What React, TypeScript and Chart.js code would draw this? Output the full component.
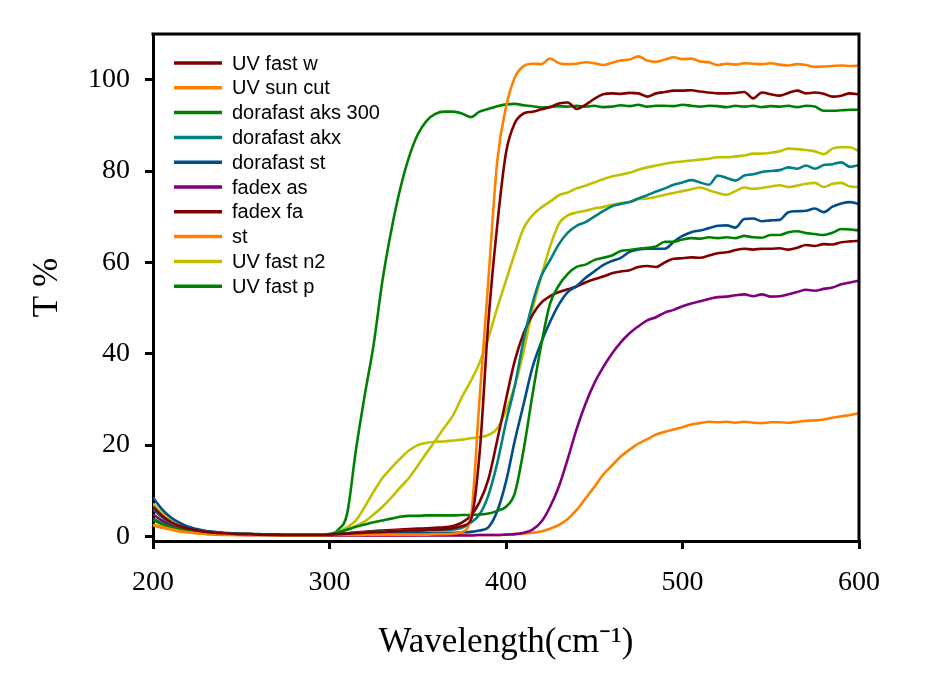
import React, { useEffect, useRef } from "react";
import { Chart, registerables } from "chart.js";

Chart.register(...registerables);

const wavelengths = [
  200, 205, 210, 215, 220, 225, 230, 235, 240, 245,
  250, 255, 260, 265, 270, 275, 280, 285, 290, 295,
  300, 305, 310, 315, 320, 325, 330, 335, 340, 345,
  350, 355, 360, 365, 370, 375, 380, 385, 390, 395,
  400, 405, 410, 415, 420, 425, 430, 435, 440, 445,
  450, 455, 460, 465, 470, 475, 480, 485, 490, 495,
  500, 505, 510, 515, 520, 525, 530, 535, 540, 545,
  550, 555, 560, 565, 570, 575, 580, 585, 590, 595,
  600,
];

const uvFastW = [
  6.5, 4.6, 3.2, 2.3, 1.7, 1.3, 1.0, 0.8, 0.7, 0.6,
  0.5, 0.5, 0.4, 0.4, 0.4, 0.3, 0.3, 0.3, 0.3, 0.3,
  0.4, 0.5, 0.6, 0.7, 0.8, 0.9, 1.0, 1.1, 1.2, 1.3,
  1.3, 1.4, 1.5, 1.6, 1.8, 2.3, 3.5, 18, 47, 68,
  84, 90.5, 92.6, 93, 93.5, 94, 94.8, 95, 93.6, 94.5,
  95.8, 96.8, 97, 96.9, 97.1, 97, 96.3, 97, 97.3, 97.6,
  97.6, 97.7, 97.4, 97.2, 97, 97, 97.1, 97.3, 95.9, 97.2,
  96.8, 96.5, 97.1, 97.6, 97, 97.2, 96.9, 96.3, 96.5, 97,
  96.8,
];

const uvSunCut = [
  2.6, 2.1, 1.6, 1.2, 0.9, 0.7, 0.6, 0.5, 0.4, 0.4,
  0.3, 0.3, 0.3, 0.3, 0.3, 0.3, 0.3, 0.3, 0.3, 0.3,
  0.3, 0.3, 0.3, 0.3, 0.4, 0.4, 0.4, 0.4, 0.4, 0.4,
  0.4, 0.4, 0.5, 0.5, 0.6, 1.0, 4, 30, 56, 82,
  94, 100.5, 103, 103.5, 103.4, 104.6, 103.6, 103.4, 103.5, 103.8,
  103.6, 103.2, 103.7, 104.2, 104.4, 105.1, 104.2, 103.9, 104.4, 104.9,
  104.5, 104.6, 104, 103.8, 103.2, 103.5, 103.3, 103.6, 103.5, 103.4,
  103.6, 103.3, 103.1, 103.4, 103.2, 102.8, 102.9, 103, 103.1, 103,
  103.1,
];

const dorafastAks300 = [
  3.9, 2.9, 2.1, 1.6, 1.2, 0.9, 0.7, 0.6, 0.5, 0.5,
  0.4, 0.4, 0.4, 0.3, 0.3, 0.3, 0.3, 0.3, 0.3, 0.3,
  0.4, 0.9, 1.5, 2.1, 2.6, 3.1, 3.5, 3.9, 4.3, 4.5,
  4.5, 4.6, 4.6, 4.6, 4.6, 4.7, 4.7, 4.8, 5.0, 5.6,
  6.5, 9.5, 19, 31, 42, 51, 55, 57.5, 59, 59.5,
  60.5, 61, 61.5, 62.5, 62.7, 63, 63.2, 63.5, 64.5, 64.5,
  65, 65.3, 65.2, 65.5, 65.3, 65.5, 65.3, 65.8, 65.5, 65.4,
  66, 66, 66.6, 66.8, 66.4, 66.2, 66, 66.5, 67.3, 67.2,
  67,
];

const dorafastAkx = [
  6, 4.3, 3.0, 2.2, 1.6, 1.2, 1.0, 0.8, 0.7, 0.6,
  0.5, 0.5, 0.4, 0.4, 0.4, 0.4, 0.4, 0.4, 0.4, 0.4,
  0.5, 0.6, 0.7, 0.8, 0.9, 1.0, 1.1, 1.2, 1.3, 1.3,
  1.3, 1.4, 1.4, 1.4, 1.5, 1.9, 3, 4.8, 9, 16,
  25, 33, 43, 51, 57, 60.5, 64, 66.5, 68, 68.8,
  70, 71.2, 72.3, 72.8, 73.2, 74, 74.7, 75.5, 76.2, 77,
  77.5, 78, 77.5, 77, 79, 78.5, 77.9, 79, 79.3, 79.8,
  80, 80.2, 80.8, 80.5, 81.2, 80.5, 81.3, 81.5, 81.9, 80.9,
  81.3,
];

const dorafastSt = [
  8.5, 6, 4.2, 3, 2.1, 1.6, 1.2, 1, 0.8, 0.7,
  0.6, 0.5, 0.5, 0.4, 0.4, 0.4, 0.4, 0.4, 0.4, 0.4,
  0.4, 0.5, 0.5, 0.6, 0.6, 0.7, 0.7, 0.7, 0.8, 0.8,
  0.8, 0.8, 0.8, 0.8, 0.8, 0.9, 1.0, 1.3, 2, 5.5,
  12, 21, 29, 37, 42.5, 47, 50.8, 53.5, 54.8, 56.6,
  58, 59.4, 60.3, 61, 62.3, 62.8, 63, 63, 63, 64.5,
  65.8, 66.6, 67, 67.5, 68, 68.1, 67.6, 69.5, 69.6, 69,
  69.2, 69.3, 71, 71.2, 71.3, 71.8, 71, 72.2, 72.9, 73.2,
  72.8,
];

const fadexAs = [
  4.8, 3.5, 2.5, 1.8, 1.3, 1, 0.8, 0.6, 0.5, 0.4,
  0.4, 0.3, 0.3, 0.3, 0.3, 0.3, 0.3, 0.3, 0.3, 0.3,
  0.2, 0.2, 0.2, 0.2, 0.2, 0.2, 0.2, 0.2, 0.2, 0.2,
  0.2, 0.2, 0.2, 0.2, 0.2, 0.2, 0.2, 0.3, 0.3, 0.3,
  0.4, 0.5, 0.8, 1.5, 3.2, 6.5, 11, 17, 23.5, 29,
  33.5, 37, 40, 42.5, 44.5, 46, 47.3, 48, 49, 49.6,
  50.4, 51, 51.5, 52, 52.4, 52.5, 52.8, 53, 52.6, 53,
  52.5, 52.6, 53, 53.5, 54, 53.8, 54.2, 54.5, 55.2, 55.6,
  56,
];

const fadexFa = [
  6, 4.3, 3.0, 2.2, 1.6, 1.2, 1.0, 0.8, 0.7, 0.6,
  0.5, 0.5, 0.4, 0.4, 0.4, 0.4, 0.4, 0.4, 0.4, 0.4,
  0.5, 0.6, 0.7, 0.9, 1.0, 1.2, 1.3, 1.4, 1.5, 1.6,
  1.7, 1.8, 1.9, 2.0, 2.3, 3.0, 4.5, 7.5, 12.5, 21,
  30, 38.5, 44.5, 48.5, 51.2, 52.6, 53.5, 54.1, 54.7, 55.6,
  56.3, 56.9, 57.6, 58, 58.3, 59, 59.2, 59, 60, 60.8,
  60.9, 61.1, 61, 61.5, 62, 62.2, 62.7, 63, 62.8, 63,
  63, 63.1, 62.8, 63.2, 63.8, 63.6, 64, 63.9, 64.4, 64.6,
  64.7,
];

const st = [
  2.4, 1.9, 1.5, 1.1, 0.9, 0.7, 0.5, 0.4, 0.3, 0.3,
  0.3, 0.3, 0.3, 0.3, 0.2, 0.2, 0.2, 0.2, 0.2, 0.2,
  0.2, 0.2, 0.2, 0.2, 0.2, 0.2, 0.2, 0.2, 0.2, 0.2,
  0.3, 0.3, 0.3, 0.3, 0.3, 0.3, 0.3, 0.3, 0.3, 0.3,
  0.4, 0.5, 0.6, 0.8, 1.1, 1.7, 2.5, 3.8, 5.8, 8.3,
  10.8, 13.5, 15.5, 17.5, 19, 20.3, 21.3, 22.3, 22.9, 23.4,
  23.9, 24.5, 24.8, 25.1, 25, 25.1, 24.9, 25.1, 24.9, 24.8,
  25, 25, 24.9, 25.1, 25.3, 25.4, 25.6, 26, 26.3, 26.6,
  27,
];

const uvFastN2 = [
  7.2, 5.1, 3.6, 2.6, 1.9, 1.4, 1.1, 0.9, 0.7, 0.6,
  0.5, 0.5, 0.4, 0.4, 0.4, 0.4, 0.4, 0.4, 0.3, 0.3,
  0.4, 1, 2, 3.5, 6.5, 9.8, 12.8, 15, 17, 18.8,
  20, 20.5, 20.7, 20.8, 21, 21.2, 21.5, 21.7, 22.2, 23.6,
  27.5, 33, 40.5, 49.6, 57, 63.5, 68.5, 70.3, 70.9, 71.3,
  71.8, 72.1, 72.6, 73, 73.2, 73.8, 74, 74.3, 74.8, 75.2,
  75.6, 76, 76.4, 75.8, 75.2, 74.8, 75.6, 76.4, 76.1, 76.3,
  76.6, 76.9, 76.5, 76.8, 77.2, 77.4, 76.5, 77.2, 77.4, 76.6,
  76.5,
];

const uvFastP = [
  3.6, 2.7, 2, 1.5, 1.1, 0.9, 0.7, 0.6, 0.5, 0.5,
  0.4, 0.4, 0.4, 0.4, 0.3, 0.3, 0.3, 0.3, 0.3, 0.3,
  0.4, 1.5, 5, 19, 31, 42, 56, 67, 76, 83,
  88, 91, 92.5, 93, 93, 92.6, 91.8, 93, 93.6, 94.2,
  94.6, 94.7, 94.4, 94.2, 93.9, 94, 94.2, 94.1, 94.3, 94.1,
  94.3, 94, 94.1, 94.4, 94.2, 94.5, 94.1, 94.3, 94.3, 94.2,
  94.5, 94.3, 94.1, 94.3, 94.2, 94, 94.3, 94.1, 94.3, 94,
  94.2, 94.1, 94.3, 94, 94.3, 94.1, 93.2, 93.2, 93.3, 93.4,
  93.4,
];

const uvFastN2b = [
  6.8, 4.9, 3.4, 2.5, 1.8, 1.4, 1.1, 0.9, 0.7, 0.6,
  0.5, 0.5, 0.4, 0.4, 0.4, 0.4, 0.4, 0.3, 0.3, 0.3,
  0.4, 0.8, 1.4, 2.3, 3.3, 4.8, 6.5, 8.5, 10.7, 12.8,
  15.5, 18.3, 21, 23.8, 26.5, 30.5, 34, 38, 43.5, 50,
  56, 62, 67.5, 70.3, 72, 73.3, 74.7, 75.3, 76.2, 76.8,
  77.5, 78.2, 78.8, 79.2, 79.6, 80.3, 80.8, 81.2, 81.6, 81.9,
  82.1, 82.3, 82.5, 82.7, 83, 83, 83.2, 83.4, 83.8, 83.8,
  84, 84.3, 84.9, 84.8, 84.6, 84.3, 83.7, 84.9, 85.2, 85.2,
  84.3,
];

const seriesLabels = [
  "UV fast w",
  "UV sun cut",
  "dorafast aks 300",
  "dorafast akx",
  "dorafast st",
  "fadex as",
  "fadex fa",
  "st",
  "UV fast n2",
  "UV fast p",
];

const seriesValues = [
  uvFastW, uvSunCut, dorafastAks300, dorafastAkx, dorafastSt,
  fadexAs, fadexFa, st, uvFastN2, uvFastP,
];

const seriesColors = [
  "#800000", "#FF8000", "#008000", "#008080", "#004C8C",
  "#800080", "#800000", "#FF8000", "#C0C000", "#008000",
];

const xTicks = [200, 300, 400, 500, 600];
const yTicks = [0, 20, 40, 60, 80, 100];

const SERIF = "'Liberation Serif', 'Times New Roman', serif";
const SANS = "'Liberation Sans', Arial, sans-serif";

const boxPlugin = {
  id: "boxPlugin",
  afterDraw(chart: any) {
    const { ctx, chartArea } = chart;
    ctx.save();
    ctx.strokeStyle = "#000";
    ctx.lineWidth = 3;
    ctx.beginPath();
    ctx.moveTo(chartArea.left - 1.5, chartArea.top);
    ctx.lineTo(chartArea.right, chartArea.top);
    ctx.lineTo(chartArea.right, chartArea.bottom + 1.5);
    ctx.stroke();
    ctx.restore();
  },
};

const legendPlugin = {
  id: "insideLegend",
  afterDraw(chart: any) {
    const { ctx, chartArea } = chart;
    ctx.save();
    ctx.font = `20px ${SANS}`;
    ctx.textBaseline = "middle";
    ctx.textAlign = "left";
    let i = 0;
    chart.data.datasets.forEach((ds: any) => {
      if (ds.hideInLegend) return;
      const y = chartArea.top + 29 + i * 24.8;
      ctx.strokeStyle = ds.borderColor;
      ctx.lineWidth = 3.5;
      ctx.beginPath();
      ctx.moveTo(chartArea.left + 21, y);
      ctx.lineTo(chartArea.left + 69, y);
      ctx.stroke();
      ctx.fillStyle = "#000";
      ctx.fillText(ds.label, chartArea.left + 79, y + 1);
      i++;
    });
    ctx.restore();
  },
};

export default function App() {
  const ref = useRef<HTMLCanvasElement | null>(null);

  useEffect(() => {
    if (!ref.current) return;
    const toPoints = (vals: number[]) =>
      wavelengths.map((w, i) => ({ x: w, y: vals[i] }));

    const datasets: any[] = seriesLabels.map((label, k) => ({
      label,
      data: toPoints(seriesValues[k]),
      borderColor: seriesColors[k],
      backgroundColor: seriesColors[k],
      borderWidth: 2.6,
      pointRadius: 0,
      cubicInterpolationMode: "monotone",
      fill: false,
    }));
    datasets.push({
      label: "UV fast n2",
      hideInLegend: true,
      data: toPoints(uvFastN2b),
      borderColor: "#C0C000",
      backgroundColor: "#C0C000",
      borderWidth: 2.6,
      pointRadius: 0,
      cubicInterpolationMode: "monotone",
      fill: false,
    });

    const chart = new Chart(ref.current, {
      type: "line",
      data: { datasets },
      options: {
        animation: false,
        responsive: false,
        layout: { padding: { left: 0, right: 71, top: 34, bottom: 0 } },
        plugins: {
          legend: { display: false },
          tooltip: { enabled: false },
        },
        scales: {
          x: {
            type: "linear",
            min: 200,
            max: 600,
            afterBuildTicks: (scale: any) => {
              scale.ticks = xTicks.map((v) => ({ value: v }));
            },
            afterFit: (scale: any) => {
              scale.height = 132;
            },
            ticks: {
              font: { family: SERIF, size: 28 },
              color: "#000",
              padding: 17,
              maxRotation: 0,
            },
            grid: {
              display: true,
              drawOnChartArea: false,
              drawTicks: true,
              tickLength: 8,
              color: "#000",
              lineWidth: 3,
            },
            border: { display: true, color: "#000", width: 3 },
            title: {
              display: true,
              text: "Wavelength(cm⁻¹)",
              font: { family: SERIF, size: 35 },
              color: "#000",
              padding: { top: 0, bottom: 9 },
            },
          },
          y: {
            type: "linear",
            min: -1,
            max: 110,
            afterBuildTicks: (scale: any) => {
              scale.ticks = yTicks.map((v) => ({ value: v }));
            },
            afterFit: (scale: any) => {
              scale.width = 153;
            },
            ticks: {
              font: { family: SERIF, size: 28 },
              color: "#000",
              padding: 15,
            },
            grid: {
              display: true,
              drawOnChartArea: false,
              drawTicks: true,
              tickLength: 8,
              color: "#000",
              lineWidth: 3,
            },
            border: { display: true, color: "#000", width: 3 },
            title: {
              display: true,
              text: "T %",
              font: { family: SERIF, size: 35 },
              color: "#000",
              padding: { top: 27, bottom: 0 },
            },
          },
        },
      },
      plugins: [boxPlugin, legendPlugin],
    } as any);

    return () => chart.destroy();
  }, []);

  return (
    <div style={{ position: "absolute", left: 0, top: 0, width: 930, height: 673, background: "#fff" }}>
      <canvas ref={ref} width={930} height={673} />
    </div>
  );
}
